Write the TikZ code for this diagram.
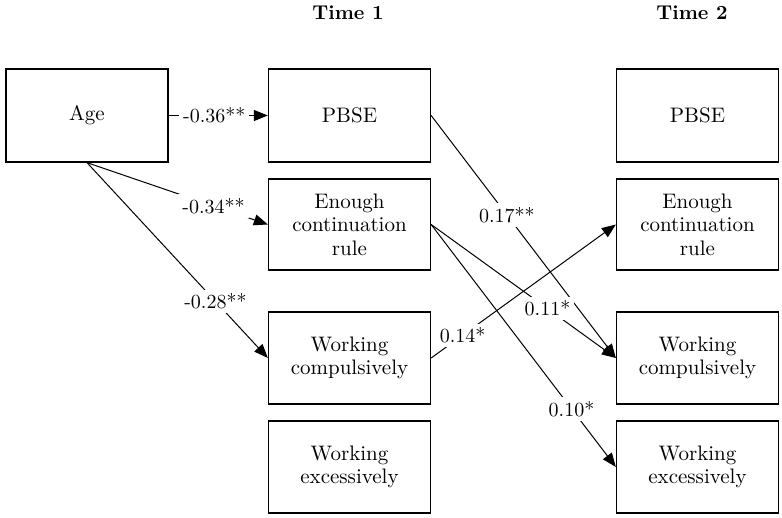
\documentclass[tikz,border=0pt]{standalone}
\usetikzlibrary{arrows.meta}
\begin{document}
\begin{tikzpicture}[x=0.5pt,y=-0.5pt,
  var/.style={draw, line width=0.65pt, minimum width=81pt, align=center,
    inner sep=0pt, font=\fontsize{10.5}{11.75}\selectfont},
  effect/.style={line width=0.5pt, -{Triangle[length=7pt,width=5.5pt]}},
  coef/.style={fill=white, inner sep=2pt, font=\fontsize{10}{12}\selectfont},
  head/.style={font=\bfseries\fontsize{10}{12}\selectfont}]
\useasboundingbox (0,0) rectangle (782,518);

% wave headings
\node[head] (t1) at (348,13) {Time 1};
\node[head] (t2) at (692,13) {Time 2};

% predictor
\node[var, minimum height=46.5pt] (age) at (87,115.5) {Age};

% Time 1 measures
\node[var, minimum height=46.5pt] (pbse1) at (349.5,115.5) {PBSE};
\node[var, minimum height=45.5pt] (ecr1) at (349.5,224.5) {Enough\\continuation\\rule};
\node[var, minimum height=46pt] (wc1) at (349.5,358) {Working\\compulsively};
\node[var, minimum height=46pt] (we1) at (349.5,467) {Working\\excessively};

% Time 2 measures
\node[var, minimum height=46.5pt] (pbse2) at (697.5,115.5) {PBSE};
\node[var, minimum height=45.5pt] (ecr2) at (697.5,224.5) {Enough\\continuation\\rule};
\node[var, minimum height=46pt] (wc2) at (697.5,358) {Working\\compulsively};
\node[var, minimum height=46pt] (we2) at (697.5,467) {Working\\excessively};

% paths from age
\draw[effect] (age.east) -- node[coef, pos=0.46] {-0.36**} (pbse1.west);
\draw[effect] (age.south) -- node[coef, pos=0.70] {-0.34**} (ecr1.west);
\draw[effect] (age.south) -- node[coef, pos=0.71] {-0.28**} (wc1.west);

% cross-lagged paths
\draw[effect] (pbse1.east) -- node[coef, pos=0.41] {0.17**} (wc2.west);
\draw[effect] (ecr1.east) -- node[coef, pos=0.63] {0.11*} (wc2.west);
\draw[effect] (ecr1.east) -- node[coef, pos=0.76] {0.10*} (we2.west);
\draw[effect] (wc1.east) -- node[coef, pos=0.17] {0.14*} (ecr2.west);
\end{tikzpicture}
\end{document}
